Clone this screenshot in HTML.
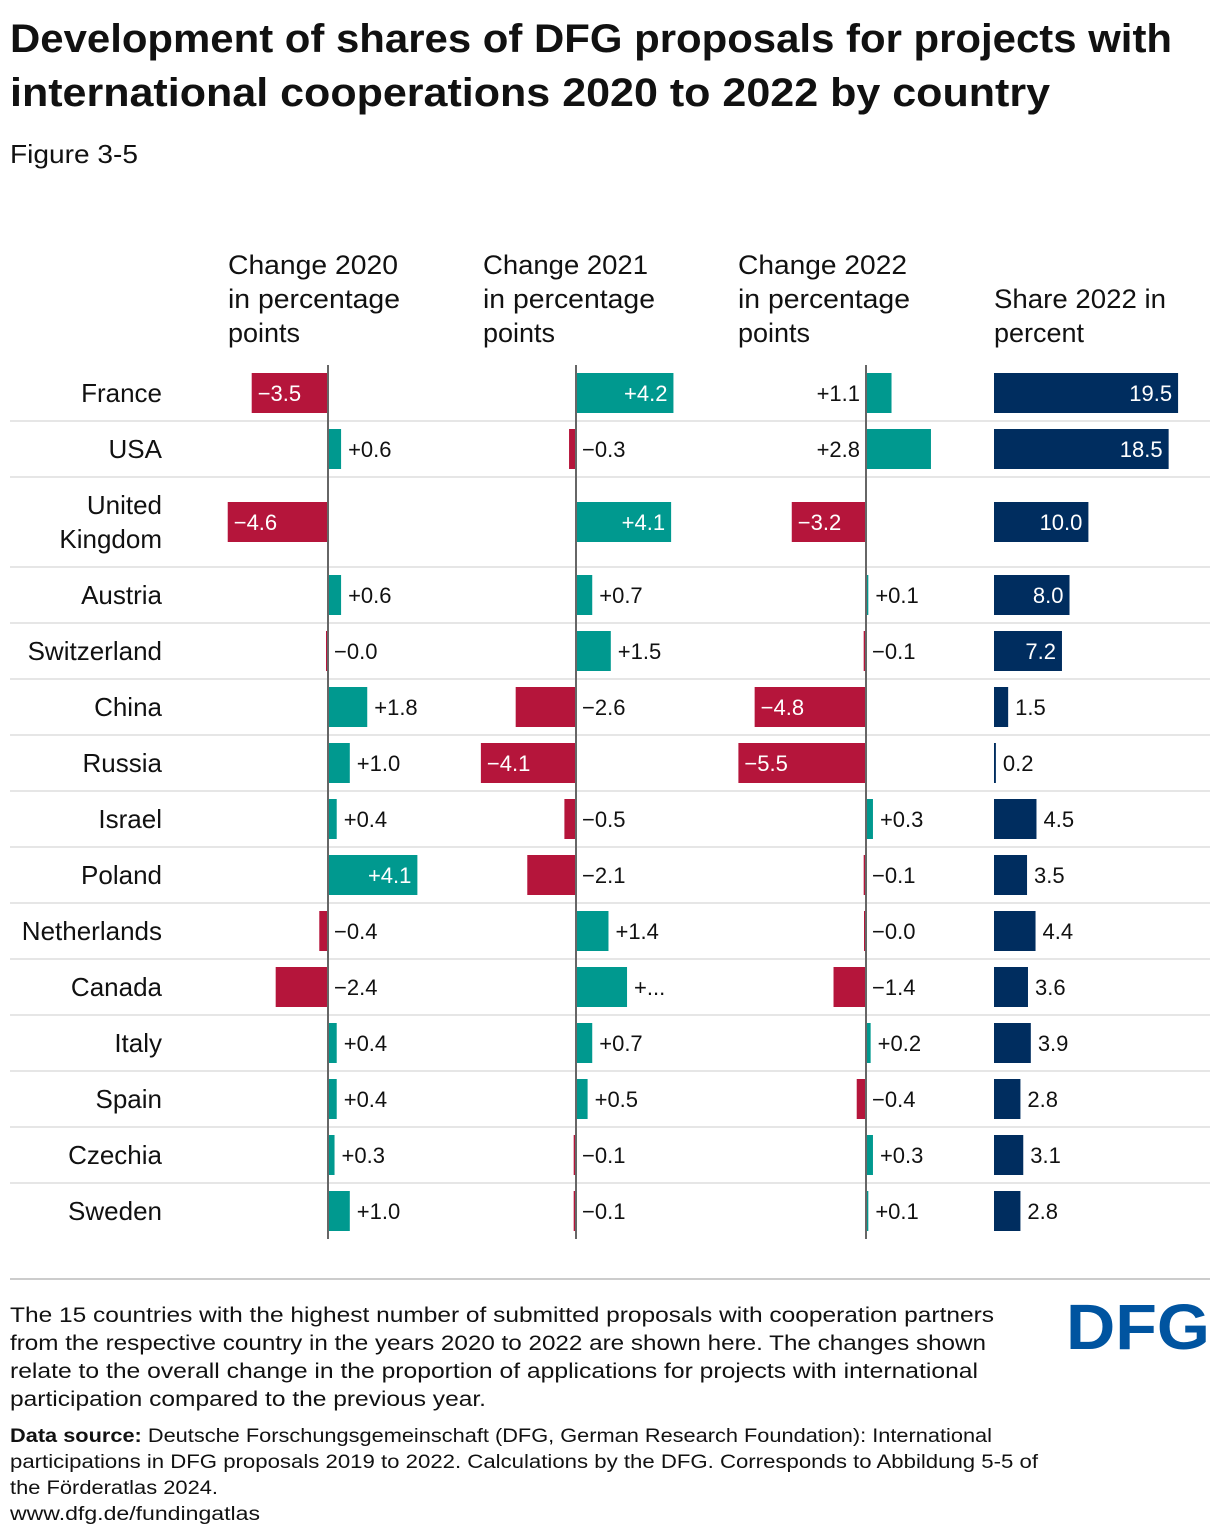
<!DOCTYPE html>
<html><head><meta charset="utf-8"><style>
html,body{margin:0;padding:0;background:#fff}
svg{display:block;font-family:"Liberation Sans",sans-serif}
</style></head><body>
<svg id="chart" width="1220" height="1536" viewBox="0 0 1220 1536" xmlns="http://www.w3.org/2000/svg">
<g font-weight="bold" font-size="40" fill="#111">
<text x="10" y="52" textLength="1162" lengthAdjust="spacingAndGlyphs">Development of shares of DFG proposals for projects with</text>
<text x="10" y="106" textLength="1040" lengthAdjust="spacingAndGlyphs">international cooperations 2020 to 2022 by country</text>
</g>
<text x="10" y="163" font-size="26" fill="#111" textLength="128" lengthAdjust="spacingAndGlyphs">Figure 3-5</text>
<g font-size="27" fill="#111">
<text x="228" y="274" textLength="170" lengthAdjust="spacingAndGlyphs">Change 2020</text><text x="228" y="308" textLength="172" lengthAdjust="spacingAndGlyphs">in percentage</text><text x="228" y="342">points</text>
<text x="483" y="274" textLength="165" lengthAdjust="spacingAndGlyphs">Change 2021</text><text x="483" y="308" textLength="172" lengthAdjust="spacingAndGlyphs">in percentage</text><text x="483" y="342">points</text>
<text x="738" y="274" textLength="169" lengthAdjust="spacingAndGlyphs">Change 2022</text><text x="738" y="308" textLength="172" lengthAdjust="spacingAndGlyphs">in percentage</text><text x="738" y="342">points</text>
<text x="994" y="308" textLength="172" lengthAdjust="spacingAndGlyphs">Share 2022 in</text><text x="994" y="342">percent</text>
</g>
<g id="plot"></g>
<line x1="10" y1="1279" x2="1210" y2="1279" stroke="#ccc" stroke-width="2"/>
<g font-size="21" fill="#111">
<text x="10" y="1322" textLength="984" lengthAdjust="spacingAndGlyphs">The 15 countries with the highest number of submitted proposals with cooperation partners</text>
<text x="10" y="1350" textLength="976" lengthAdjust="spacingAndGlyphs">from the respective country in the years 2020 to 2022 are shown here. The changes shown</text>
<text x="10" y="1378" textLength="968" lengthAdjust="spacingAndGlyphs">relate to the overall change in the proportion of applications for projects with international</text>
<text x="10" y="1406" textLength="476" lengthAdjust="spacingAndGlyphs">participation compared to the previous year.</text>
</g>
<g font-size="19" fill="#111">
<text x="10" y="1442" textLength="982" lengthAdjust="spacingAndGlyphs"><tspan font-weight="bold">Data source:</tspan> Deutsche Forschungsgemeinschaft (DFG, German Research Foundation): International</text>
<text x="10" y="1468" textLength="1028" lengthAdjust="spacingAndGlyphs">participations in DFG proposals 2019 to 2022. Calculations by the DFG. Corresponds to Abbildung 5-5 of</text>
<text x="10" y="1494" textLength="208" lengthAdjust="spacingAndGlyphs">the Förderatlas 2024.</text>
<text x="10" y="1520" textLength="250" lengthAdjust="spacingAndGlyphs">www.dfg.de/fundingatlas</text>
</g>
<text x="1066" y="1349" font-size="64" font-weight="bold" fill="#0054A0" textLength="144" lengthAdjust="spacingAndGlyphs">DFG</text>
</svg>
<script>
const countries=["France","USA","United Kingdom","Austria","Switzerland","China","Russia","Israel","Poland","Netherlands","Canada","Italy","Spain","Czechia","Sweden"];
const change2020=[-3.5,0.6,-4.6,0.6,-0.0,1.8,1.0,0.4,4.1,-0.4,-2.4,0.4,0.4,0.3,1.0];
const change2021=[4.2,-0.3,4.1,0.7,1.5,-2.6,-4.1,-0.5,-2.1,1.4,2.2,0.7,0.5,-0.1,-0.1];
const change2022=[1.1,2.8,-3.2,0.1,-0.1,-4.8,-5.5,0.3,-0.1,-0.0,-1.4,0.2,-0.4,0.3,0.1];
const share2022=[19.5,18.5,10.0,8.0,7.2,1.5,0.2,4.5,3.5,4.4,3.6,3.9,2.8,3.1,2.8];
const negZero2020=[false,false,false,false,true,false,false,false,false,false,false,false,false,false,false];
const negZero2022=[false,false,false,false,false,false,false,false,false,true,false,false,false,false,false];

const NS="http://www.w3.org/2000/svg";
const plot=document.getElementById('plot');
const RED="#B5153B",TEAL="#00998F",NAVY="#002D5F";
function mk(tag,attrs,parent){const e=document.createElementNS(NS,tag);for(const k in attrs)e.setAttribute(k,attrs[k]);(parent||plot).appendChild(e);return e;}
const top0=365;
const rowH=countries.map(c=>c==="United Kingdom"?90:56);
const rowTop=[];let acc=top0;rowH.forEach(h=>{rowTop.push(acc);acc+=h;});
const bottom=acc;
function yCenter(i){return rowTop[i]+rowH[i]/2;}
for(let i=1;i<countries.length;i++){
  const l=mk('line',{x1:10,x2:1210,y1:rowTop[i],y2:rowTop[i],stroke:"#e6e6e6","stroke-width":2});
  
  
}
countries.forEach((c,i)=>{
  const y=yCenter(i);
  if(c==="United Kingdom"){
    const t=mk('text',{x:162,y:y-8,"text-anchor":"end","font-size":26,fill:"#111"});t.textContent="United";
    
    
    const t2=mk('text',{x:162,y:y+26,"text-anchor":"end","font-size":26,fill:"#111"});t2.textContent="Kingdom";
    
    
  } else {
    const t=mk('text',{x:162,y:y+9,"text-anchor":"end","font-size":26,fill:"#111"});t.textContent=c;
    
    
  }
});
function fmt(v,negZero){const s=Math.abs(v).toFixed(1);return (v<0||negZero)?"\u2212"+s:"+"+s;}
const cols=[
 {data:change2020,axis:328,scale:21.8,nz:negZero2020,name:'change-2020'},
 {data:change2021,axis:576,scale:23.2,nz:null,name:'change-2021'},
 {data:change2022,axis:866,scale:23.2,nz:negZero2022,name:'change-2022',posLeft:true},
];
cols.forEach((col,ci)=>{
  const xs=v=>col.axis+v*col.scale;
  col.data.forEach((v,i)=>{
    const y=yCenter(i);
    const neg=v<0||(col.nz&&col.nz[i]);
    const x1=Math.min(xs(0),xs(v)),w=Math.abs(xs(v)-xs(0));
    const bw=Math.max(w,2);
    const b=mk('rect',{x:neg?xs(0)-bw:x1,y:y-20,width:bw,height:40,fill:neg?RED:TEAL});
    
    
    let label=fmt(v,col.nz&&col.nz[i]);
    if(ci===1&&countries[i]==="Canada")label="+...";
    let attrs;
    if(w>70){
      attrs=v<0?{x:xs(v)+6,"text-anchor":"start",fill:"#fff"}:{x:xs(v)-6,"text-anchor":"end",fill:"#fff"};
    } else if(neg){
      attrs={x:col.axis+6,"text-anchor":"start",fill:"#111"};
    } else if(col.posLeft&&v>=1){
      attrs={x:col.axis-6,"text-anchor":"end",fill:"#111"};
    } else {
      attrs={x:xs(v)+7,"text-anchor":"start",fill:"#111"};
    }
    attrs.y=y+8;attrs["font-size"]=22;
    const t=mk('text',attrs);t.textContent=label;
    
    
  });
  const ax=mk('line',{x1:col.axis,x2:col.axis,y1:top0,y2:bottom,stroke:"#666","stroke-width":2});
  
  
});
const sx0=994,sscale=9.44;
share2022.forEach((v,i)=>{
  const y=yCenter(i);const w=v*sscale;
  const b=mk('rect',{x:sx0,y:y-20,width:Math.max(w,1.5),height:40,fill:NAVY});
  
  
  const inside=v>=7;
  const t=mk('text',{x:inside?sx0+w-6:sx0+w+7,y:y+8,"text-anchor":inside?"end":"start","font-size":22,fill:inside?"#fff":"#111"});
  t.textContent=v.toFixed(1);
  
  
});
</script>
</body></html>
